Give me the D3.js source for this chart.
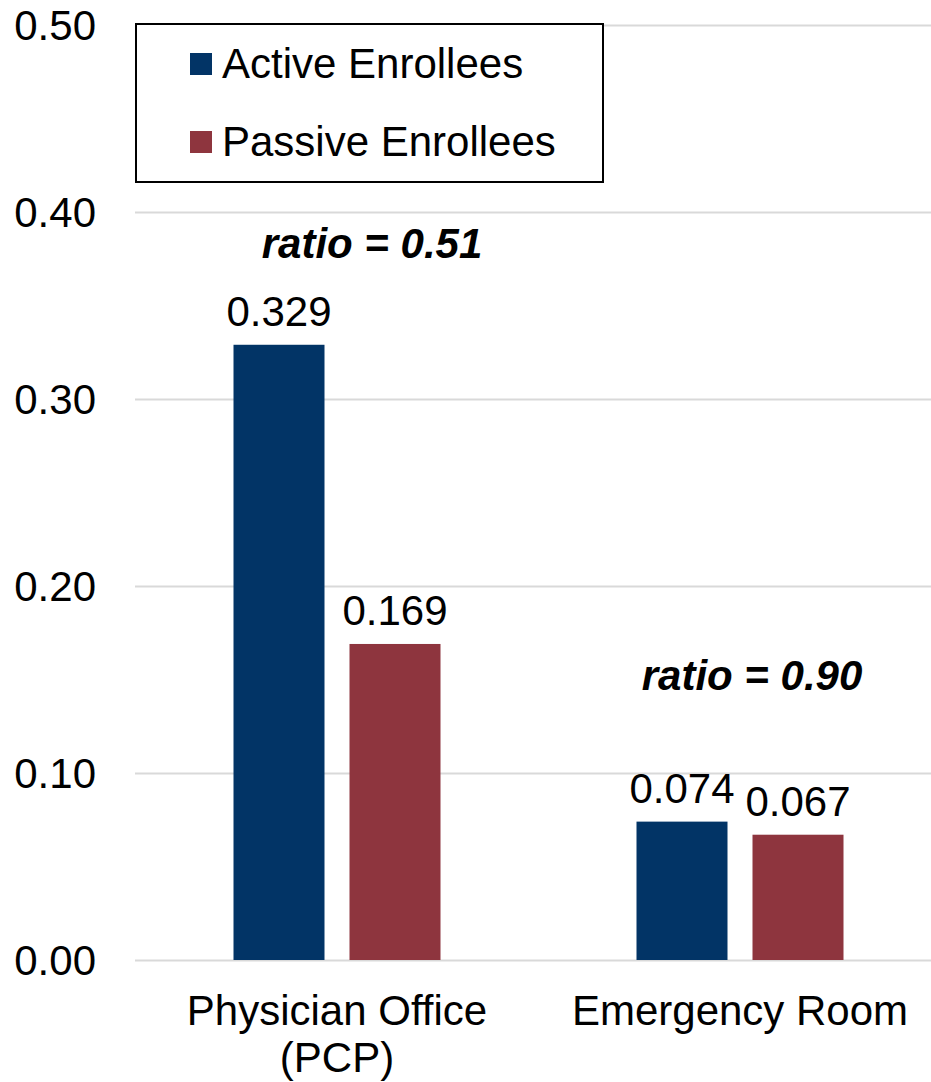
<!DOCTYPE html>
<html>
<head>
<meta charset="utf-8">
<script src="https://cdn.jsdelivr.net/npm/d3@7"></script>
<style>
  html, body { margin: 0; padding: 0; background: #fff; }
  svg { display: block; font-family: "Liberation Sans", Arial, sans-serif; }
</style>
</head>
<body>
<svg id="chart" width="931" height="1082"></svg>
<script>
// Visit rates by site of care
const categories = ["Physician Office (PCP)", "Emergency Room"];
const categoryLines = [["Physician Office", "(PCP)"], ["Emergency Room"]];
const series = ["Active Enrollees", "Passive Enrollees"];
const activeValues = [0.329, 0.074];
const passiveValues = [0.169, 0.067];
const valueLabels = [["0.329", "0.169"], ["0.074", "0.067"]];
const ratioLabels = ["ratio = 0.51", "ratio = 0.90"];
const yTicks = [0, 0.1, 0.2, 0.3, 0.4, 0.5];
const colors = ["#023466", "#8E353E"];

const svg = d3.select("#chart");
const fontSize = 42;

const y = d3.scaleLinear().domain([0, 0.5]).range([960, 25]);
const x0 = d3.scaleBand().domain(categories).range([135.5, 941.5]).padding(0);
const x1 = d3.scaleBand().domain(series)
  .range([x0.bandwidth() / 2 - 103.5, x0.bandwidth() / 2 + 103.5])
  .paddingInner(0.2155).paddingOuter(0);

// Gridlines
svg.append("g").selectAll("line").data(yTicks).join("line")
  .attr("x1", 135).attr("x2", 931)
  .attr("y1", d => Math.round(y(d)) + 0.5).attr("y2", d => Math.round(y(d)) + 0.5)
  .attr("stroke", "#d9d9d9").attr("stroke-width", 2);

// Y axis tick labels
const yAxis = d3.axisLeft(y).tickValues(yTicks).tickFormat(d3.format(".2f")).tickSize(0).tickPadding(0);
const yg = svg.append("g").attr("transform", "translate(96,0)").call(yAxis);
yg.select(".domain").remove();
yg.selectAll("text").attr("font-size", fontSize).attr("fill", "#000")
  .attr("font-family", "'Liberation Sans', Arial, sans-serif").attr("dy", "0.35em");

// Bars
const rows = categories.map((c, i) => ({ cat: c, i, vals: [activeValues[i], passiveValues[i]] }));
const groups = svg.append("g").selectAll("g").data(rows).join("g")
  .attr("transform", d => `translate(${x0(d.cat)},0)`);

groups.selectAll("rect").data(d => d.vals.map((v, j) => ({ v, j, i: d.i }))).join("rect")
  .attr("x", d => x1(series[d.j]))
  .attr("width", x1.bandwidth())
  .attr("y", d => y(d.v))
  .attr("height", d => y(0) - y(d.v))
  .attr("fill", d => colors[d.j]);

// Value labels
groups.selectAll("text.val").data(d => d.vals.map((v, j) => ({ v, j, i: d.i }))).join("text")
  .attr("class", "val")
  .attr("x", d => x1(series[d.j]) + x1.bandwidth() / 2)
  .attr("y", d => y(d.v) - 19)
  .attr("text-anchor", "middle")
  .attr("font-size", fontSize)
  .attr("fill", "#000")
  .text(d => valueLabels[d.i][d.j]);

// Ratio annotations
const ratioOffsets = [[35, 258], [12, 690]];
svg.append("g").selectAll("text").data(ratioLabels).join("text")
  .attr("x", (d, i) => x0(categories[i]) + x0.bandwidth() / 2 + ratioOffsets[i][0])
  .attr("y", (d, i) => ratioOffsets[i][1])
  .attr("text-anchor", "middle")
  .attr("font-size", fontSize)
  .attr("font-weight", "bold")
  .attr("font-style", "italic")
  .attr("fill", "#000")
  .text(d => d);

// Category labels
const catG = svg.append("g").selectAll("text").data(categories).join("text")
  .attr("x", d => x0(d) + x0.bandwidth() / 2)
  .attr("y", 1025)
  .attr("text-anchor", "middle")
  .attr("font-size", fontSize)
  .attr("fill", "#000");
catG.selectAll("tspan").data((d, i) => categoryLines[i]).join("tspan")
  .attr("x", function () { return d3.select(this.parentNode).attr("x"); })
  .attr("dy", (d, k) => k === 0 ? 0 : 47)
  .text(d => d);

// Legend
const legend = svg.append("g");
legend.append("rect")
  .attr("x", 136).attr("y", 24).attr("width", 467).attr("height", 158)
  .attr("fill", "#fff").attr("stroke", "#000").attr("stroke-width", 2);
const items = legend.selectAll("g.item").data(series).join("g").attr("class", "item")
  .attr("transform", (d, i) => `translate(0,${i * 78})`);
items.append("rect")
  .attr("x", 190).attr("y", 53).attr("width", 22).attr("height", 22)
  .attr("fill", (d, i) => colors[i]);
items.append("text")
  .attr("x", 222).attr("y", 78)
  .attr("font-size", fontSize).attr("fill", "#000")
  .text(d => d);
</script>
</body>
</html>
